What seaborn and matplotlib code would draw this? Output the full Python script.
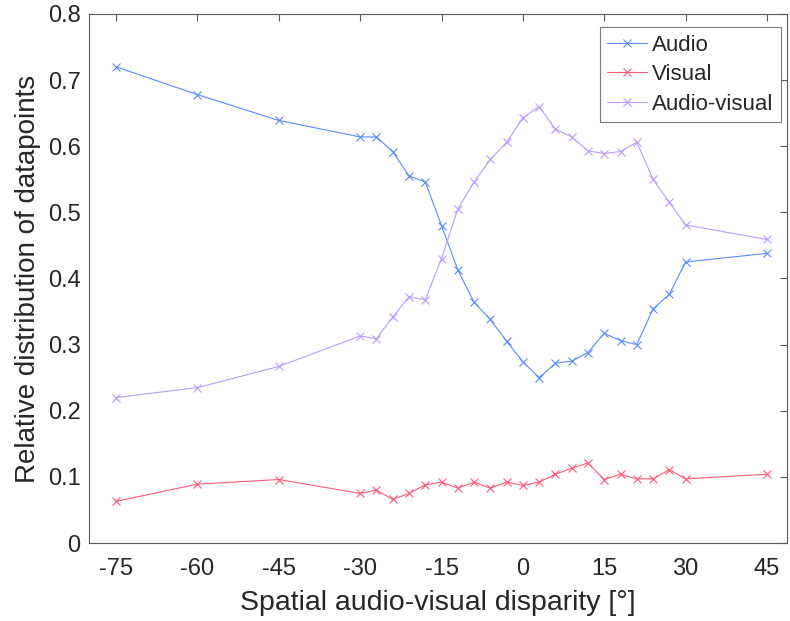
import pandas as pd
import matplotlib
matplotlib.use("Agg")
import matplotlib.pyplot as plt
import seaborn as sns

disparity = [-75, -60, -45, -30, -27, -24, -21, -18, -15, -12, -9, -6, -3,
             0, 3, 6, 9, 12, 15, 18, 21, 24, 27, 30, 45]
audio = [0.720, 0.678, 0.639, 0.614, 0.614, 0.592, 0.555, 0.546, 0.480, 0.413,
         0.364, 0.338, 0.305, 0.274, 0.250, 0.272, 0.275, 0.288, 0.317, 0.306,
         0.300, 0.354, 0.376, 0.425, 0.438]
visual = [0.063, 0.089, 0.096, 0.075, 0.080, 0.066, 0.075, 0.088, 0.092, 0.083,
          0.092, 0.083, 0.092, 0.087, 0.092, 0.104, 0.113, 0.121, 0.096, 0.104,
          0.097, 0.097, 0.111, 0.097, 0.104]
audio_visual = [0.220, 0.235, 0.267, 0.313, 0.309, 0.342, 0.372, 0.368, 0.430,
                0.505, 0.546, 0.580, 0.606, 0.643, 0.660, 0.626, 0.614, 0.593,
                0.589, 0.592, 0.606, 0.550, 0.515, 0.481, 0.459]

series_names = ["Audio", "Visual", "Audio-visual"]
series_colors = ["#5a8cff", "#ff5a78", "#bb9cff"]
x_ticks = [-75, -60, -45, -30, -15, 0, 15, 30, 45]

df = pd.DataFrame({"disparity": disparity, "Audio": audio,
                   "Visual": visual, "Audio-visual": audio_visual})
long_df = df.melt(id_vars="disparity", var_name="condition", value_name="share")

sns.set_theme(style="white")
plt.rcParams["font.family"] = ["Liberation Sans", "DejaVu Sans"]
text_color = "#262626"
axis_color = "#5a5a5a"

fig = plt.figure(figsize=(7.9, 6.21), dpi=100)
ax = fig.add_axes([0.1127, 0.1256, 0.8835, 0.8519])

for name, color in zip(series_names, series_colors):
    sns.lineplot(data=long_df[long_df["condition"] == name], x="disparity", y="share",
                 color=color, marker="x", markersize=5.5, markeredgewidth=0.8,
                 markeredgecolor=color, linewidth=0.8, label=name, ax=ax)

ax.set_xlim(-80, 48.7)
ax.set_ylim(0, 0.8)
ax.set_xticks(x_ticks)
ax.set_xticklabels([str(t) for t in x_ticks])
ax.set_yticks([i / 10 for i in range(9)])
ax.set_yticklabels(["0"] + [f"{i / 10:.1f}" for i in range(1, 9)])

ax.set_xlabel("Spatial audio-visual disparity [°]", fontsize=20.5, color=text_color,
              labelpad=7)
ax.set_ylabel("Relative distribution of datapoints", fontsize=20, color=text_color,
              labelpad=5)
ax.tick_params(direction="in", top=True, right=True, length=5, width=0.8,
               colors=axis_color, labelcolor=text_color, labelsize=17)
ax.tick_params(axis="x", pad=11)
ax.tick_params(axis="y", pad=6)
for spine in ax.spines.values():
    spine.set_color(axis_color)
    spine.set_linewidth(0.8)

leg = ax.legend(loc="upper right", bbox_to_anchor=(0.9914, 0.9754), fontsize=16,
                frameon=True, fancybox=False, edgecolor=axis_color, borderaxespad=0,
                handlelength=1.8, handletextpad=0.2, labelspacing=0.38, borderpad=0.35)
leg.get_frame().set_linewidth(0.8)

fig.savefig("out.png", dpi=100)
